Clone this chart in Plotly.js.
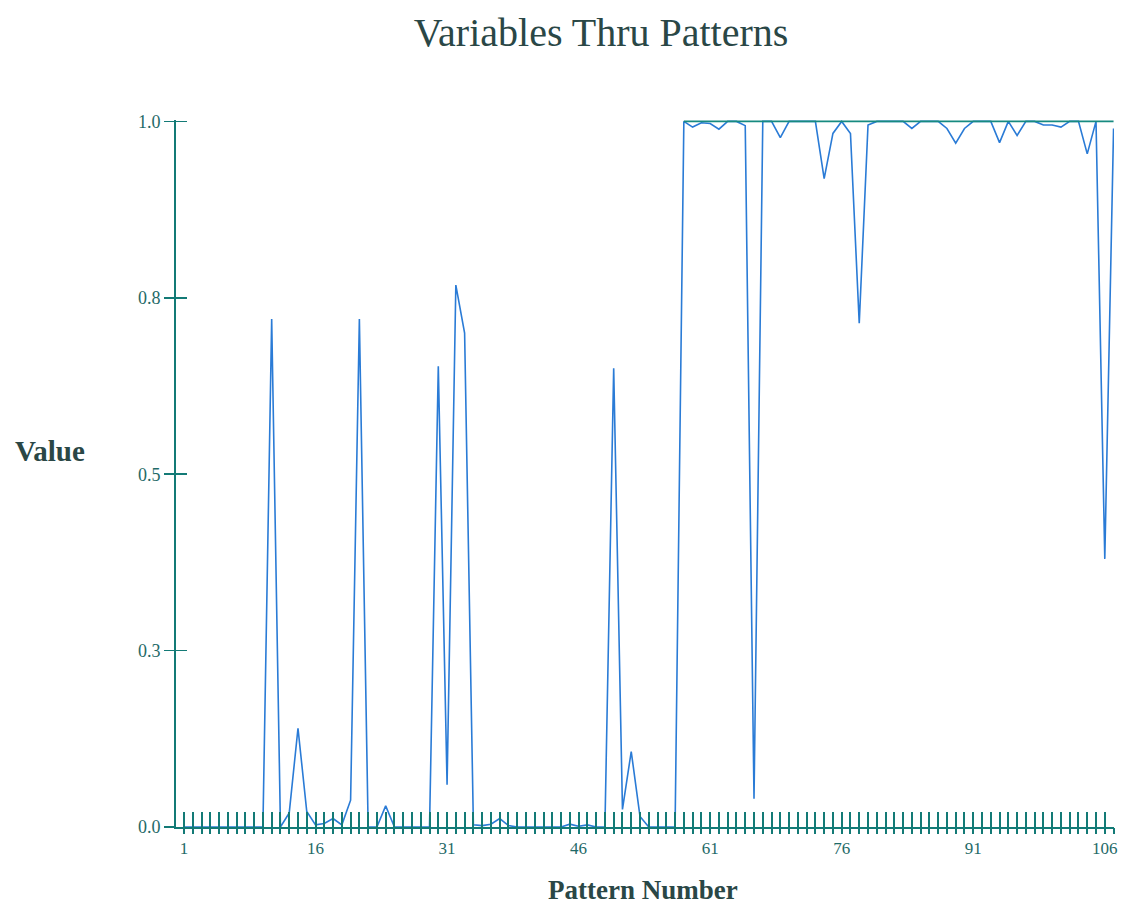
<!DOCTYPE html>
<html>
<head>
<meta charset="utf-8">
<script src="https://cdn.plot.ly/plotly-3.0.1.min.js"></script>
<style>
  html, body { margin: 0; padding: 0; background: #ffffff; }
  #chart { width: 1128px; height: 908px; }
</style>
</head>
<body>
<div id="chart"></div>
<script>
// Pattern numbers (x categories)
const patterns = [
  1,2,3,4,5,6,7,8,9,10,11,12,13,14,15,16,17,18,19,20,
  21,22,23,24,25,26,27,28,29,30,31,32,33,34,35,36,37,38,39,40,
  41,42,43,44,45,46,47,48,49,50,51,52,53,54,55,56,57,58,59,60,
  61,62,63,64,65,66,67,68,69,70,71,72,73,74,75,76,77,78,79,80,
  81,82,83,84,85,86,87,88,89,90,91,92,93,94,95,96,97,98,99,100,
  101,102,103,104,105,106,107
];

// Network output value for each pattern
const outputValues = [
  0,0,0,0,0,0,0,0,0,0,              // 1-10
  0.72,0,0.02,0.14,0.022,0.003,0.005,0.012,0.003,0.038, // 11-20
  0.72,0,0,0.03,0,0,0,0,0,0.653,    // 21-30
  0.06,0.768,0.70,0.003,0.002,0.004,0.012,0.002,0,0, // 31-40
  0,0,0,0,0.004,0.001,0.003,0,0,0.65, // 41-50
  0.025,0.107,0.015,0,0,0,0,1.0,0.992,0.998, // 51-60
  0.997,0.989,1.0,1.0,0.994,0.04,1.0,1.0,0.977,1.0, // 61-70
  1.0,1.0,1.0,0.919,0.983,1.0,0.983,0.714,0.995,1.0, // 71-80
  1.0,1.0,1.0,0.99,1.0,1.0,1.0,0.99,0.969,0.99, // 81-90
  1.0,1.0,1.0,0.97,1.0,0.98,1.0,1.0,0.995,0.995, // 91-100
  0.992,1.0,1.0,0.954,1.0,0.38,0.99 // 101-107
];

// Target value line (visible from pattern 58 on; earlier values lie on the axis)
const targetValues = [
  null,null,null,null,null,null,null,null,null,null,
  null,null,null,null,null,null,null,null,null,null,
  null,null,null,null,null,null,null,null,null,null,
  null,null,null,null,null,null,null,null,null,null,
  null,null,null,null,null,null,null,null,null,null,
  null,null,null,null,null,null,null,1,1,1,
  1,1,1,1,1,1,1,1,1,1,
  1,1,1,1,1,1,1,1,1,1,
  1,1,1,1,1,1,1,1,1,1,
  1,1,1,1,1,1,1,1,1,1,
  1,1,1,1,1,1,1
];

const xLabelPatterns = [1,16,31,46,61,76,91,106];
const yTickValues = [0, 0.25, 0.5, 0.75, 1.0];
const yTickLabels = ['0.0','0.3','0.5','0.8','1.0'];

const axisColor = '#137a76';
const labelColor = '#1f6a68';
const titleColor = '#2a4746';
const serif = 'Liberation Serif, Times New Roman, serif';

const xRange = [0.09, 107.05];
const yRange = [0, 1.002];

const xTickText = patterns.map(p => xLabelPatterns.includes(p) ? String(p) : '');

const traces = [
  {
    x: patterns, y: outputValues, type: 'scatter', mode: 'lines',
    line: { color: '#2a7bd6', width: 1.6 }, hoverinfo: 'skip', showlegend: false
  },
  {
    x: patterns, y: targetValues, type: 'scatter', mode: 'lines',
    line: { color: '#178a80', width: 1.8 }, connectgaps: false,
    hoverinfo: 'skip', showlegend: false
  },
  {
    x: [null], y: [null], xaxis: 'x2', yaxis: 'y2', type: 'scatter', mode: 'lines',
    hoverinfo: 'skip', showlegend: false
  }
];

const layout = {
  width: 1128, height: 908,
  paper_bgcolor: '#ffffff', plot_bgcolor: '#ffffff',
  margin: { l: 176, r: 14, t: 120, b: 81 },
  showlegend: false,
  title: {
    text: 'Variables Thru Patterns',
    font: { family: serif, size: 40, color: titleColor },
    x: 601 / 1128, xref: 'container', xanchor: 'center',
    y: 1 - 32 / 908, yref: 'container', yanchor: 'middle'
  },
  xaxis: {
    range: xRange, showgrid: false, zeroline: false,
    showline: true, linecolor: axisColor, linewidth: 2,
    tickmode: 'array', tickvals: patterns, ticktext: xTickText,
    ticks: 'inside', ticklen: 15, tickwidth: 2, tickcolor: axisColor,
    ticklabelstandoff: 5,
    tickfont: { family: serif, size: 17, color: labelColor }
  },
  xaxis2: {
    overlaying: 'x', anchor: 'y2', side: 'bottom', range: xRange,
    showgrid: false, zeroline: false, showline: false,
    tickmode: 'array', tickvals: patterns,
    ticks: 'outside', ticklen: 6, tickwidth: 2, tickcolor: axisColor,
    showticklabels: false
  },
  yaxis: {
    range: yRange, showgrid: false, zeroline: false,
    showline: true, linecolor: axisColor, linewidth: 2,
    tickmode: 'array', tickvals: yTickValues, ticktext: yTickLabels,
    ticks: 'outside', ticklen: 10, tickwidth: 1.8, tickcolor: axisColor,
    tickfont: { family: serif, size: 18, color: labelColor }
  },
  yaxis2: {
    overlaying: 'y', anchor: 'x2', side: 'left', range: yRange,
    showgrid: false, zeroline: false, showline: false,
    tickmode: 'array', tickvals: yTickValues,
    ticks: 'inside', ticklen: 11, tickwidth: 1.8, tickcolor: axisColor,
    showticklabels: false
  },
  annotations: [
    {
      text: '<b>Value</b>', xref: 'paper', yref: 'paper',
      x: (50 - 176) / 938, y: (827 - 451) / 707,
      xanchor: 'center', yanchor: 'middle', showarrow: false,
      font: { family: serif, size: 29, color: titleColor }
    },
    {
      text: '<b>Pattern Number</b>', xref: 'paper', yref: 'paper',
      x: (643 - 176) / 938, y: (827 - 890) / 707,
      xanchor: 'center', yanchor: 'middle', showarrow: false,
      font: { family: serif, size: 27, color: titleColor }
    }
  ]
};

Plotly.newPlot('chart', traces, layout, { staticPlot: true, displayModeBar: false });
</script>
</body>
</html>
